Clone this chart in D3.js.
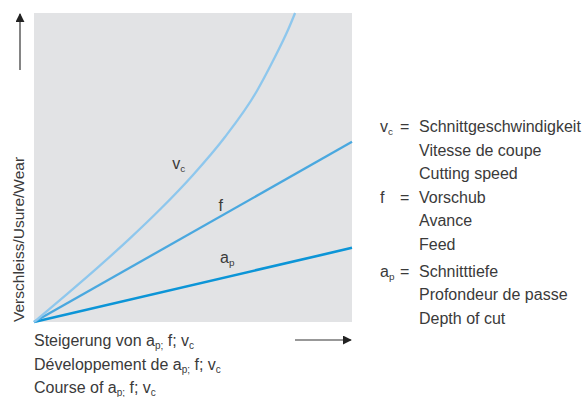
<!DOCTYPE html>
<html>
<head>
<meta charset="utf-8">
<script src="https://cdn.jsdelivr.net/npm/d3@7"></script>
<style>
  body { margin: 0; background: #fff; }
  text { font-family: "Liberation Sans Narrow", "Liberation Sans", sans-serif; fill: #3a3a3a; }
</style>
</head>
<body>
<script>
// curve values (x = increase, y = wear, both 0..100)
const vcX = [0, 10, 20, 30, 40, 50, 60, 70, 75, 80, 82.1];
const vcY = [0, 8.7, 17.6, 26.9, 36.8, 47.6, 59.8, 74.6, 84.2, 94.8, 100];
const fX = [0, 100];
const fY = [0, 58.3];
const apX = [0, 100];
const apY = [0, 24];

const legendRows = [
    ["v", "c", "Schnittgeschwindigkeit"],
    ["", "", "Vitesse de coupe"],
    ["", "", "Cutting speed"],
    ["f", "", "Vorschub"],
    ["", "", "Avance"],
    ["", "", "Feed"],
    ["a", "p", "Schnitttiefe"],
    ["", "", "Profondeur de passe"],
    ["", "", "Depth of cut"]
];
const xTitle = ["Steigerung von ", "Développement de ", "Course of "];

function main() {
    const svg = d3.select("body").append("svg")
        .attr("width", 587)
        .attr("height", 397);

    const x = d3.scaleLinear().domain([0, 100]).range([34, 352]);
    const y = d3.scaleLinear().domain([0, 100]).range([322, 13]);

    svg.append("rect")
        .attr("x", x(0)).attr("y", y(100))
        .attr("width", x(100) - x(0))
        .attr("height", y(0) - y(100))
        .attr("fill", "#e2e3e5");

    const line = d3.line()
        .x(d => x(d[0]))
        .y(d => y(d[1]))
        .curve(d3.curveMonotoneX);

    const series = [
        { xs: apX, ys: apY, color: "#0c95d7", w: 2.6 },
        { xs: fX, ys: fY, color: "#4aa8df", w: 2.3 },
        { xs: vcX, ys: vcY, color: "#8ec7ed", w: 2.3 }
    ];
    series.forEach(s => {
        svg.append("path")
            .datum(d3.zip(s.xs, s.ys))
            .attr("d", line)
            .attr("fill", "none")
            .attr("stroke", s.color)
            .attr("stroke-width", s.w);
    });

    // labels on the curves
    function subLabel(px, py, main, sub, size) {
        const t = svg.append("text")
            .attr("x", px).attr("y", py)
            .style("font-size", size + "px");
        t.append("tspan").text(main);
        if (sub) {
            t.append("tspan").text(sub)
                .attr("dy", 3)
                .style("font-size", (size * 0.62) + "px");
        }
        return t;
    }
    subLabel(x(43.5), y(49.5), "v", "c", 16);
    subLabel(x(58), y(36), "f", "", 16);
    subLabel(x(58.5), y(19), "a", "p", 16);

    // arrows
    const defs = svg.append("defs");
    defs.append("marker")
        .attr("id", "head")
        .attr("viewBox", "0 0 10 10")
        .attr("refX", 9).attr("refY", 5)
        .attr("markerWidth", 9).attr("markerHeight", 9)
        .attr("markerUnits", "userSpaceOnUse")
        .attr("orient", "auto")
        .append("path")
        .attr("d", "M0,0L10,5L0,10Z")
        .attr("fill", "#222");

    svg.append("line")
        .attr("x1", 20).attr("y1", 70)
        .attr("x2", 20).attr("y2", 14)
        .attr("stroke", "#333").attr("stroke-width", 1.2)
        .attr("marker-end", "url(#head)");

    svg.append("line")
        .attr("x1", 295).attr("y1", 340)
        .attr("x2", 351).attr("y2", 340)
        .attr("stroke", "#333").attr("stroke-width", 1.2)
        .attr("marker-end", "url(#head)");

    // y title
    svg.append("text")
        .attr("transform", "translate(24," + y(0) + ") rotate(-90)")
        .style("font-size", "15.5px")
        .text("Verschleiss/Usure/Wear");

    // x title
    xTitle.forEach((s, i) => {
        const t = svg.append("text")
            .attr("x", 34).attr("y", 346 + i * 23.5)
            .style("font-size", "16px");
        t.append("tspan").text(s + "a");
        t.append("tspan").text("p;").attr("dy", 3).style("font-size", "10px");
        t.append("tspan").text(" f; v").attr("dy", -3);
        t.append("tspan").text("c").attr("dy", 3).style("font-size", "10px");
    });

    // legend
    legendRows.forEach((r, i) => {
        const yy = 132 + i * 23.5 + (i >= 6 ? 3.5 : 0);
        if (r[0]) {
            subLabel(380, yy, r[0], r[1], 16);
            svg.append("text").attr("x", 400).attr("y", yy)
                .style("font-size", "16px").text("=");
        }
        svg.append("text").attr("x", 419).attr("y", yy)
            .style("font-size", "16px").text(r[2]);
    });
}
main();
</script>
</body>
</html>
